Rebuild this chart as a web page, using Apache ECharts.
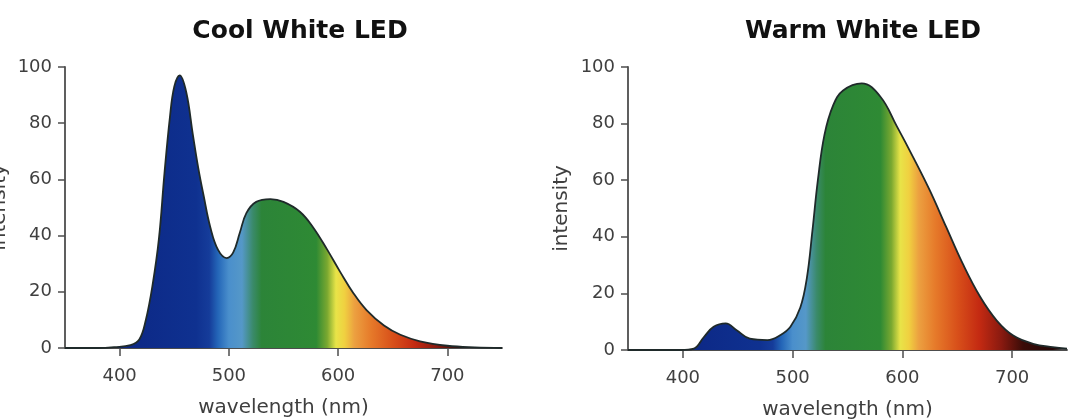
<!DOCTYPE html>
<html>
<head>
<meta charset="utf-8">
<script src="https://cdn.jsdelivr.net/npm/echarts@6/dist/echarts.min.js"></script>
<style>
html,body{margin:0;padding:0;background:#fff;}
#c{width:1073px;height:420px;}
</style>
</head>
<body>
<div id="c"></div>
<script>
// ---- data ----
var titles = ['Cool White LED', 'Warm White LED'];
var xTickLabels = [400, 500, 600, 700];
var yTickLabels = [0, 20, 40, 60, 80, 100];

var coolWavelength = [350, 380, 395, 410, 418, 424, 430, 436, 441, 446, 450, 455, 461, 467, 472, 477, 483, 490, 498, 504, 510, 516, 525, 538, 550, 565, 577, 590, 602, 614, 626, 642, 657, 675, 700, 725, 750];
var coolIntensity  = [0, 0, 0.3, 1, 3, 10, 22, 39, 62, 82, 93, 97, 91, 76, 64, 54, 43, 35, 32, 34, 41, 48, 52, 53, 52, 48.5, 43, 35, 27, 19.5, 13.5, 8, 4.7, 2.4, 0.8, 0.2, 0];

var warmWavelength = [350, 398, 410, 419, 428, 439, 449, 461, 477, 489, 498, 507, 513, 518, 523, 529, 537, 546, 563, 580, 595, 610, 625, 640, 655, 671, 686, 701, 719, 737, 750];
var warmIntensity  = [0, 0, 0.5, 4.5, 8.2, 9.4, 7, 4, 3.5, 5.3, 8.2, 15, 25.5, 42, 60, 76, 86.5, 91.7, 94.2, 89.5, 79, 68, 56.4, 43.4, 30.5, 18.7, 10.4, 5.1, 2.2, 1, 0.5];

// spectrum colour stops: wavelength -> colour
var specWave  = [350, 420, 470, 482, 490, 500, 512, 522, 530, 580, 590, 598, 606, 615, 630, 650, 670, 690, 710, 750];
var specColor = ['#0a1f70', '#0d2a88', '#0f3190', '#153c9a', '#2466b8', '#4a8fcc', '#5598c8', '#3a8a6a', '#2c8438', '#2e8a34', '#7aa830', '#e8e448', '#f0d040', '#eca040', '#e67a2a', '#d8501a', '#c42a12', '#8a1a10', '#3a0c08', '#1a0505'];

var xMin = 350, xMax = 750;

function pairs(xs, ys){ return xs.map(function(x,i){return [x, ys[i]];}); }
function spectrum(){
  var stops = specWave.map(function(w,i){
    return {offset:(w - xMin)/(xMax - xMin), color:specColor[i]};
  });
  return new echarts.graphic.LinearGradient(0,0,1,0,stops);
}

var FONT = '"DejaVu Sans", Lato, sans-serif';
var axisCol = '#4d4d4d';
var labelCol = '#3f3f3f';

function xAxis(gi){
  return {
    gridIndex: gi, type:'value', min:xMin, max:xMax,
    name:'wavelength (nm)', nameLocation:'middle', nameGap:50,
    nameTextStyle:{fontFamily:FONT, fontSize:20, color:labelCol},
    axisLine:{show:true, onZero:false, lineStyle:{color:axisCol, width:1.8}},
    axisTick:{show:true, customValues:xTickLabels, length:8, inside:false, lineStyle:{color:axisCol, width:1.5}},
    axisLabel:{customValues:xTickLabels, fontFamily:FONT, fontSize:18, color:labelCol, margin:19},
    splitLine:{show:false}
  };
}
function yAxis(gi, gap){
  return {
    gridIndex: gi, type:'value', min:0, max:100, interval:20,
    name:'intensity', nameLocation:'middle', nameGap:gap, nameRotate:90,
    nameTextStyle:{fontFamily:FONT, fontSize:20, color:labelCol},
    axisLine:{show:true, lineStyle:{color:axisCol, width:1.8}},
    axisTick:{show:true, length:7, lineStyle:{color:axisCol, width:1.5}},
    axisLabel:{fontFamily:FONT, fontSize:18, color:labelCol, margin:13},
    splitLine:{show:false}
  };
}
function series(gi, xs, ys){
  return {
    type:'line', xAxisIndex:gi, yAxisIndex:gi,
    data:pairs(xs, ys), smooth:0.4, showSymbol:false, symbol:'none',
    lineStyle:{color:'#1f2a2a', width:1.8},
    areaStyle:{color:spectrum(), opacity:1},
    z:3
  };
}

var chart = echarts.init(document.getElementById('c'), null, {renderer:'canvas'});
chart.setOption({
  animation:false,
  backgroundColor:'#ffffff',
  title:[
    {text:titles[0], left:295, top:14, textAlign:'center',
     textStyle:{fontFamily:FONT, fontWeight:'bold', fontSize:25, color:'#111'}},
    {text:titles[1], left:858, top:14, textAlign:'center',
     textStyle:{fontFamily:FONT, fontWeight:'bold', fontSize:25, color:'#111'}}
  ],
  grid:[
    {left:65, top:67, width:437, height:281, outerBoundsMode:'none', containLabel:false},
    {left:628, top:67, width:439, height:283, outerBoundsMode:'none', containLabel:false}
  ],
  xAxis:[xAxis(0), xAxis(1)],
  yAxis:[yAxis(0, 55), yAxis(1, 56)],
  series:[series(0, coolWavelength, coolIntensity), series(1, warmWavelength, warmIntensity)]
});
</script>
</body>
</html>
